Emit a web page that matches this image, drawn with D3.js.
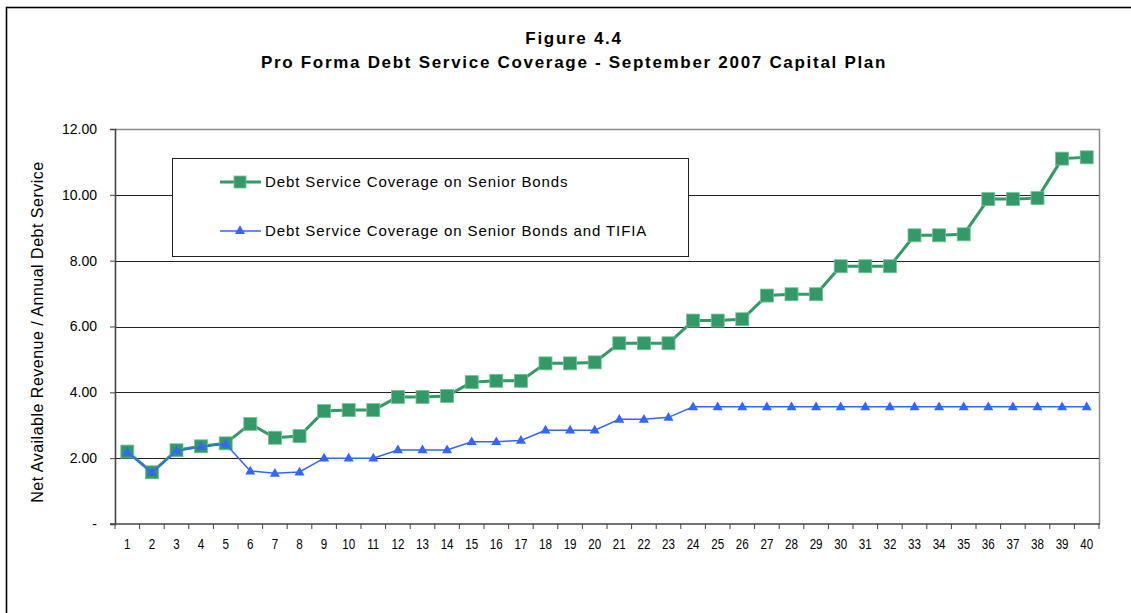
<!DOCTYPE html>
<html>
<head>
<meta charset="utf-8">
<script src="https://cdn.jsdelivr.net/npm/d3@7"></script>
<style>
  html, body { margin: 0; padding: 0; background: #fff; }
  svg { display: block; }
  text { font-family: Arial, "Liberation Sans", sans-serif; fill: #000; }
</style>
</head>
<body>
<script>
// Years of the forecast (1..40)
const years = d3.range(1, 41);

// Coverage ratio on senior bonds only
const seniorCoverage = [
  2.20, 1.57, 2.24, 2.36, 2.45, 3.04, 2.62, 2.67, 3.43, 3.46,
  3.46, 3.86, 3.86, 3.89, 4.31, 4.35, 4.35, 4.88, 4.88, 4.91,
  5.49, 5.49, 5.49, 6.18, 6.18, 6.22, 6.94, 6.98, 6.98, 7.83,
  7.83, 7.83, 8.77, 8.77, 8.80, 9.87, 9.87, 9.90, 11.10, 11.14
];

// Coverage ratio on senior bonds plus the TIFIA loan
const tifiaCoverage = [
  2.18, 1.56, 2.22, 2.35, 2.43, 1.61, 1.54, 1.58, 2.00, 2.00,
  2.00, 2.25, 2.25, 2.25, 2.50, 2.50, 2.54, 2.85, 2.85, 2.85,
  3.18, 3.18, 3.24, 3.56, 3.56, 3.56, 3.56, 3.56, 3.56, 3.56,
  3.56, 3.56, 3.56, 3.56, 3.56, 3.56, 3.56, 3.56, 3.56, 3.56
];

const yTicks = [0, 2, 4, 6, 8, 10, 12];
const seriesNames = [
  "Debt Service Coverage on Senior Bonds",
  "Debt Service Coverage on Senior Bonds and TIFIA"
];
const titleLines = ["Figure 4.4", "Pro Forma Debt Service Coverage - September 2007 Capital Plan"];
const yAxisTitle = "Net Available Revenue / Annual Debt Service";

const W = 1131, H = 613;
const plot = { left: 115, right: 1099, top: 129, bottom: 524 };
const GREEN = "#339966", BLUE = "#3366FF";

const svg = d3.select("body").append("svg").attr("width", W).attr("height", H);

// Outer chart frame (only top and left edges fall inside the view)
svg.append("rect")
  .attr("x", 6.5).attr("y", 7.5).attr("width", 1160).attr("height", 700)
  .attr("fill", "none").attr("stroke", "#000").attr("stroke-width", 1.6);

const x = d3.scaleBand().domain(years).range([plot.left, plot.right]);
const y = d3.scaleLinear().domain([0, 12]).range([plot.bottom, plot.top]);
const cx = d => x(d) + x.bandwidth() / 2;

// Title
svg.append("g").selectAll("text").data(titleLines).join("text")
  .attr("x", 574).attr("y", (d, i) => 44 + i * 24)
  .attr("text-anchor", "middle")
  .style("font-size", "17px").style("font-weight", "bold")
  .style("letter-spacing", "1.7px")
  .text(d => d);

// Plot frame: grey top and right edges
svg.append("path")
  .attr("d", `M${plot.left},${plot.top + 0.5}H${plot.right + 0.5}V${plot.bottom}`)
  .attr("fill", "none").attr("stroke", "#8c8c8c").attr("stroke-width", 1.5);

// Horizontal gridlines
svg.append("g").selectAll("line").data(yTicks.filter(v => v > 0 && v < 12)).join("line")
  .attr("x1", plot.left).attr("x2", plot.right)
  .attr("y1", d => Math.round(y(d)) + 0.5).attr("y2", d => Math.round(y(d)) + 0.5)
  .attr("stroke", "#222").attr("stroke-width", 1);

// Y axis
const yAxis = d3.axisLeft(y).tickValues(yTicks).tickSize(5).tickPadding(13)
  .tickFormat(v => v === 0 ? "-" : d3.format(".2f")(v));
const gy = svg.append("g").attr("transform", `translate(${plot.left},0)`).call(yAxis);
gy.select(".domain").attr("stroke", "#444").attr("stroke-width", 1.6);
gy.selectAll(".tick line").attr("stroke", "#444");
gy.selectAll(".tick text").style("font-size", "14px").style("font-family", "Arial, 'Liberation Sans', sans-serif");

// X axis: ticks sit on category boundaries
const gx = svg.append("g").attr("transform", `translate(0,${plot.bottom})`);
gx.append("line").attr("x1", plot.left - 5).attr("x2", plot.right + 1)
  .attr("y1", 0).attr("y2", 0).attr("stroke", "#444").attr("stroke-width", 1.6);
gx.selectAll("line.tk").data(years.concat([41])).join("line").attr("class", "tk")
  .attr("x1", d => d === 41 ? plot.right : x(d)).attr("x2", d => d === 41 ? plot.right : x(d))
  .attr("y1", 0).attr("y2", 5).attr("stroke", "#444");
gx.selectAll("text").data(years).join("text")
  .attr("transform", d => `translate(${cx(d)},25) scale(0.8,1)`)
  .attr("text-anchor", "middle")
  .style("font-size", "14.5px")
  .text(d => d);

// Y axis title
svg.append("text")
  .attr("transform", `translate(43,${332}) rotate(-90)`)
  .attr("text-anchor", "middle")
  .style("font-size", "16px").style("letter-spacing", "0.5px")
  .text(yAxisTitle);

// Series lines
const line = vals => d3.line().x((d, i) => cx(years[i])).y(d => y(d))(vals);

svg.append("path").attr("d", line(seniorCoverage))
  .attr("fill", "none").attr("stroke", GREEN).attr("stroke-width", 3)
  .attr("stroke-linejoin", "round");
svg.append("g").selectAll("rect").data(seniorCoverage).join("rect")
  .attr("x", (d, i) => cx(years[i]) - 6.5).attr("y", d => y(d) - 6.5)
  .attr("width", 13).attr("height", 13)
  .attr("fill", GREEN).attr("stroke", "#6fc596").attr("stroke-width", 0.8);

const tri = d3.symbol().type(d3.symbolTriangle).size(44);
svg.append("path").attr("d", line(tifiaCoverage))
  .attr("fill", "none").attr("stroke", BLUE).attr("stroke-width", 1.5);
svg.append("g").selectAll("path").data(tifiaCoverage).join("path")
  .attr("transform", (d, i) => `translate(${cx(years[i])},${y(d) + 0.5})`)
  .attr("d", tri).attr("fill", BLUE);

// Legend
const lg = svg.append("g");
lg.append("rect").attr("x", 172.5).attr("y", 158.5).attr("width", 516).attr("height", 98)
  .attr("fill", "#fff").attr("stroke", "#222").attr("stroke-width", 1);
const rows = [
  { name: seriesNames[0], color: GREEN, w: 3, marker: "square", yy: 182 },
  { name: seriesNames[1], color: BLUE, w: 1.5, marker: "triangle", yy: 231 }
];
rows.forEach(r => {
  lg.append("line").attr("x1", 220).attr("x2", 261).attr("y1", r.yy).attr("y2", r.yy)
    .attr("stroke", r.color).attr("stroke-width", r.w);
  if (r.marker === "square") {
    lg.append("rect").attr("x", 234).attr("y", r.yy - 6).attr("width", 12).attr("height", 12)
      .attr("fill", r.color).attr("stroke", "#6fc596").attr("stroke-width", 0.8);
  } else {
    lg.append("path").attr("transform", `translate(240,${r.yy})`).attr("d", tri).attr("fill", r.color);
  }
  lg.append("text").attr("x", 265).attr("y", r.yy + 5)
    .style("font-size", "15px").style("letter-spacing", "0.9px").text(r.name);
});
</script>
</body>
</html>
